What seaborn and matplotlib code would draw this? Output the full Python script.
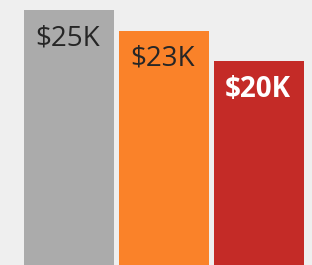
import matplotlib.pyplot as plt
import pandas as pd
import seaborn as sns

categories = ["A", "B", "C"]
values = [25, 23, 20]
labels = ["$25K", "$23K", "$20K"]
colors = ["#ababab", "#fa8229", "#c42b27"]
label_colors = ["#262626", "#262626", "#ffffff"]
label_weights = ["normal", "normal", "bold"]

df = pd.DataFrame({"cat": categories, "val": values})

sns.set_style("white")
plt.rcParams["font.family"] = ["Open Sans", "DejaVu Sans"]

fig = plt.figure(figsize=(3.12, 2.65), dpi=100, facecolor="#efefef")
ax = fig.add_axes([0, 0, 1, 1])
ax.set_facecolor("#efefef")

sns.barplot(data=df, x="cat", y="val", hue="cat", palette=colors,
            width=0.947, legend=False, saturation=1, linewidth=0, ax=ax)

for i, (v, lab) in enumerate(zip(values, labels)):
    ax.annotate(lab, (i, v), xytext=(-1, -10), textcoords="offset points",
                ha="center", va="top", fontsize=20,
                color=label_colors[i], fontweight=label_weights[i])

ax.set_xlim(-0.726, 2.558)
ax.set_ylim(0, 26)
ax.axis("off")

fig.savefig("out.png", dpi=100, facecolor=fig.get_facecolor())
